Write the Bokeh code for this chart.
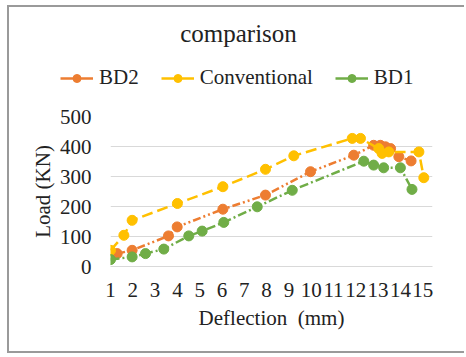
from bokeh.plotting import figure
from bokeh.models import Legend, LegendItem, FixedTicker, Label
from bokeh.embed import file_html
from bokeh.resources import INLINE

# Data
x_ticks = list(range(1, 16))
y_ticks = [0, 100, 200, 300, 400, 500]

bd2_x = [1.3, 1.97, 3.6, 3.99, 6.04, 7.95, 9.97, 11.91, 12.8, 13.1, 13.33, 13.56, 13.93, 14.48]
bd2_y = [43, 54, 102, 132, 191, 238, 316, 371, 404, 404, 399, 393, 366, 352]

conv_x = [1.0, 1.6, 1.97, 4.0, 6.04, 7.95, 9.22, 11.84, 12.21, 13.03, 13.18, 13.48, 14.83, 15.05]
conv_y = [54, 104, 154, 210, 266, 324, 369, 427, 427, 393, 377, 382, 382, 296]

bd1_x = [1.0, 1.97, 2.57, 3.39, 4.51, 5.11, 6.08, 7.58, 9.15, 12.36, 12.8, 13.25, 14.0, 14.52]
bd1_y = [23, 32, 43, 58, 102, 118, 147, 199, 254, 351, 338, 329, 329, 257]

series_names = ["BD2", "Conventional", "BD1"]
title_text = "comparison"

FONT = "Times New Roman"
TXT = "#222222"
BORDER = "2px solid #9a9a9a"
colors = ["#ED7D31", "#FFC000", "#70AD47"]
dashes = ["8 3 2 3 2 3", "11 5", "9 3 2 3"]
xs_all = [bd2_x, conv_x, bd1_x]
ys_all = [bd2_y, conv_y, bd1_y]

# ---- header: title and legend (frame covers the whole header) ----
head = figure(width=457, height=96, x_range=(0, 457), y_range=(0, 96),
              x_axis_location=None, y_axis_location=None, title=None,
              output_backend="svg", toolbar_location=None, min_border=0)
head.outline_line_color = None
head.grid.visible = False
head.background_fill_color = "white"
head.border_fill_color = "white"
head.margin = (5, 0, 0, 7)
head.styles = {"vertical-align": "top", "border-left": BORDER, "border-top": BORDER}

head.add_layout(Label(x=229, y=70, text=title_text, text_font=FONT,
                      text_font_size="25px", text_color=TXT,
                      text_align="center", text_baseline="middle"))

items = []
for name, col, xs, ys in zip(series_names, colors, xs_all, ys_all):
    # hidden copies of the series, only used to draw the legend swatches
    ln = head.line(xs, ys, line_color=col, line_width=2.5, visible=False)
    sc = head.scatter(xs, ys, size=9, fill_color=col, line_color=col, visible=False)
    items.append(LegendItem(label=name, renderers=[ln, sc]))

legend = Legend(items=items, orientation="horizontal", location=(51, 13))
legend.label_text_font = FONT
legend.label_text_font_size = "21px"
legend.label_text_color = TXT
legend.glyph_width = 33
legend.label_standoff = 6
legend.spacing = 22
legend.border_line_color = None
legend.background_fill_alpha = 0
legend.inactive_fill_alpha = 0
legend.padding = 0
legend.margin = 0
legend.click_policy = "none"
head.add_layout(legend, "center")

# ---- main chart ----
chart = figure(width=457, height=252, x_range=(1, 15.44), y_range=(0, 500),
               title=None, output_backend="svg", toolbar_location=None,
               min_border_left=101, min_border_right=34, min_border_top=15,
               min_border_bottom=87)
chart.outline_line_color = None
chart.background_fill_color = "white"
chart.border_fill_color = "white"
chart.margin = (0, 0, 0, 7)
chart.styles = {"vertical-align": "top", "border-left": BORDER, "border-bottom": BORDER}

for xs, ys, col, dash in zip(xs_all, ys_all, colors, dashes):
    chart.line(xs, ys, line_color=col, line_width=2.5, line_dash=dash)
    chart.scatter(xs, ys, size=10, fill_color=col, line_color=col)

chart.xaxis.ticker = FixedTicker(ticks=x_ticks)
chart.yaxis.ticker = FixedTicker(ticks=y_ticks)
for ax in (chart.xaxis, chart.yaxis):
    ax.major_label_text_font = FONT
    ax.major_label_text_font_size = "21px"
    ax.major_label_text_color = TXT
    ax.axis_label_text_font = FONT
    ax.axis_label_text_font_size = "21px"
    ax.axis_label_text_font_style = "normal"
    ax.axis_label_text_color = TXT
    ax.major_tick_line_color = None
    ax.minor_tick_line_color = None
chart.yaxis.axis_line_color = None
chart.xaxis.axis_line_color = "#D9D9D9"
chart.yaxis.axis_label = "Load (KN)"
chart.xaxis.axis_label = "Deflection \u00a0(mm)"
chart.yaxis.major_label_standoff = 13
chart.xaxis.major_label_standoff = 10
chart.yaxis.axis_label_standoff = 2
chart.xaxis.axis_label_standoff = 6
chart.xgrid.grid_line_color = None
chart.ygrid.grid_line_color = "#D9D9D9"

p = [head, chart]
open("out.html", "w").write(file_html(p, INLINE))
